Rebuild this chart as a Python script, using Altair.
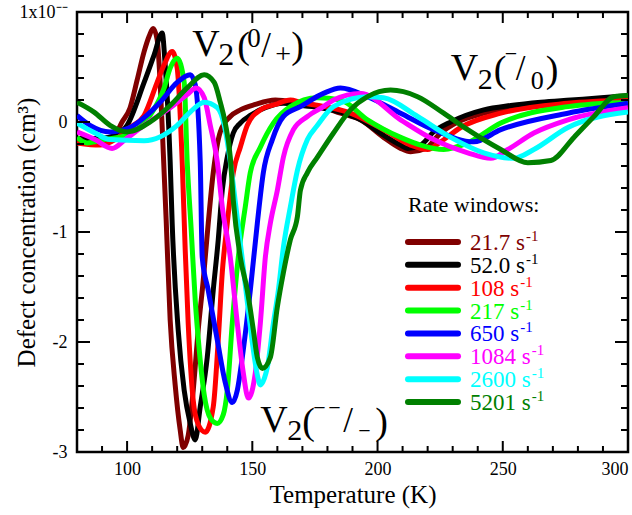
import altair as alt
import pandas as pd

FONT = "Liberation Serif"

# ---------------- data (temperature K, defect concentration) ----------------
rates = ["21.7", "52.0", "108", "217", "650", "1084", "2600", "5201"]
colors = ["#800000", "#000000", "#ff0000", "#00ff00", "#0000ff", "#ff00ff", "#00ffff", "#008000"]

S_21_7 = [(80, -0.16), (85.2, -0.18), (91.2, -0.19), (95.2, -0.12), (98, 0), (101.2, 0.13), (104, 0.38),
          (106.8, 0.64), (108.8, 0.78), (110.4, 0.85), (112, 0.75), (113.2, 0.36), (114.4, -0.25),
          (115.6, -0.89), (117.2, -1.8), (119.2, -2.39), (121.2, -2.8), (122.4, -2.96), (124.4, -2.85),
          (126.4, -2.44), (128.4, -1.89), (130.4, -1.44), (132.4, -0.92), (134.4, -0.46), (137.2, -0.09),
          (141.2, 0.05), (145.2, 0.11), (151.2, 0.16), (159.2, 0.2), (169.2, 0.17), (177.2, 0.14),
          (185.2, 0.08), (193.2, 0.02), (202.4, -0.14), (209.2, -0.24), (213.2, -0.27), (219.2, -0.24),
          (225.2, -0.1), (232, 0), (242.4, 0.08), (253.2, 0.13), (265.2, 0.16), (277.2, 0.19),
          (289.2, 0.21), (300, 0.23)]
S_52_0 = [(80, -0.15), (89.2, -0.15), (95.2, -0.12), (100, -0.03), (106.8, 0.36), (110.8, 0.61), (114, 0.81),
          (115.2, 0.52), (117.2, -0.36), (118, -0.92), (120.4, -1.89), (122.8, -2.44), (125.2, -2.74),
          (127.2, -2.89), (129.2, -2.59), (132, -2.14), (134.4, -1.53), (136.4, -1.07), (138, -0.62),
          (140, -0.32), (142.4, -0.1), (145.2, -0.01), (149.2, 0.06), (155.2, 0.13), (162.4, 0.17),
          (169.2, 0.15), (177.2, 0.13), (185.2, 0.09), (193.2, 0.02), (202.4, -0.12), (209.2, -0.21),
          (212, -0.24), (217.2, -0.21), (222.4, -0.09), (229.2, 0), (242.4, 0.11), (253.2, 0.15),
          (265.2, 0.18), (277.2, 0.2), (289.2, 0.22), (300, 0.24)]
S_108 = [(80, -0.19), (89.2, -0.21), (95.2, -0.16), (101.2, -0.05), (106.8, 0.06), (112, 0.36), (114.8, 0.52),
         (118, 0.64), (120, 0.49), (122, -0.36), (123.2, -1.16), (124.4, -1.83), (126.4, -2.53), (128.4, -2.75),
         (131.2, -2.82), (134.4, -2.59), (136.4, -1.98), (138, -1.37), (140, -0.92), (142.4, -0.46),
         (145.2, -0.23), (148, -0.03), (153.2, 0.11), (159.2, 0.16), (165.2, 0.2), (169.2, 0.18), (189.2, 0.08),
         (202.4, -0.07), (213.2, -0.21), (220, -0.25), (225.2, -0.18), (233.2, -0.05), (249.2, 0.08),
         (276, 0.17), (300, 0.2)]
S_217 = [(80, -0.14), (84, -0.19), (90.8, -0.16), (100, -0.12), (109.2, 0.06), (114.8, 0.31), (117.2, 0.49),
         (120, 0.58), (122.8, 0.36), (124, -0.36), (125.6, -0.98), (127.2, -1.62), (128.8, -2.07),
         (130.8, -2.48), (133.2, -2.69), (136, -2.74), (138.4, -2.66), (140, -2.44), (142, -1.83),
         (144.4, -1.23), (147.2, -0.77), (149.2, -0.46), (153.2, -0.23), (158.4, -0.01), (165.2, 0.14),
         (176, 0.22), (185.2, 0.2), (196, 0.02), (209.2, -0.14), (217.2, -0.21), (226.4, -0.25), (236, -0.19),
         (249.2, -0.01), (276, 0.14), (300, 0.18)]
S_650 = [(80, 0.06), (85.2, -0.03), (93.2, -0.09), (101.2, -0.05), (106.8, 0.04), (113.2, 0.18), (120, 0.36),
         (125.2, 0.43), (127.2, 0.34), (129.2, -0.36), (130, -1.23), (132.4, -1.53), (136, -1.98),
         (139.2, -2.37), (142, -2.55), (144, -2.44), (146, -2.14), (149.2, -1.53), (152, -0.92), (154.4, -0.46),
         (158, -0.16), (162.4, 0.05), (169.2, 0.14), (178.4, 0.26), (185.2, 0.31), (196, 0.23), (209.2, 0.08),
         (222.4, -0.07), (238.4, -0.18), (249.2, -0.07), (276, 0.08), (300, 0.17)]
S_1084 = [(80, -0.09), (87.2, -0.16), (94, -0.24), (99.2, -0.16), (106.8, -0.03), (117.2, 0.13), (124, 0.25),
          (127.6, 0.31), (130.8, 0.22), (133.2, -0.03), (136, -0.36), (138, -0.77), (141.2, -1.23), (144, -1.83),
          (146.4, -2.28), (148.4, -2.51), (151.2, -2.28), (153.2, -1.83), (155.2, -1.23), (157.2, -0.92),
          (160, -0.62), (162.4, -0.32), (166.4, -0.07), (172, 0.05), (178.4, 0.14), (182.4, 0.2), (193.2, 0.26),
          (209.2, 0.02), (222.4, -0.16), (236, -0.28), (245.2, -0.33), (252, -0.25), (262.4, -0.1), (276, 0.02),
          (300, 0.13)]
S_2600 = [(80, -0.01), (87.2, -0.1), (93.2, -0.16), (106.8, -0.17), (120, -0.03), (125.2, 0.09), (130.8, 0.18),
          (136, 0.13), (138.8, -0.03), (141.2, -0.36), (143.6, -0.8), (146, -1.25), (148.4, -1.71),
          (150.4, -2.07), (152, -2.3), (153.2, -2.39), (154.8, -2.33), (156, -2.23), (158.4, -1.83),
          (160.4, -1.53), (162.4, -1.14), (165.2, -0.77), (168, -0.44), (172, -0.16), (176, -0.03),
          (182.4, 0.14), (196, 0.23), (202.4, 0.22), (216, 0.05), (229.2, -0.14), (242.4, -0.28),
          (254.4, -0.33), (262.4, -0.25), (276, -0.05), (300, 0.09)]
S_5201 = [(80, 0.18), (86.8, 0.09), (93.2, -0.03), (100, -0.09), (109.2, 0), (117.2, 0.15), (124, 0.31),
          (130.8, 0.43), (134.8, 0.36), (137.2, 0.18), (139.2, -0.01), (141.2, -0.32), (142.4, -0.71),
          (145.2, -1.23), (148, -1.53), (150.4, -1.89), (152, -2.14), (154, -2.24), (157.2, -2.14), (160, -1.68),
          (162.4, -1.37), (165.2, -1.07), (168, -0.86), (169.2, -0.62), (172, -0.46), (176, -0.32),
          (182.4, -0.1), (189.2, 0.11), (196, 0.23), (205.2, 0.29), (216, 0.23), (226.4, 0.08), (236, -0.07),
          (249.2, -0.25), (260, -0.37), (269.2, -0.35), (278.4, -0.14), (286.4, 0.05), (294.4, 0.23),
          (300, 0.24)]
series = [S_21_7, S_52_0, S_108, S_217, S_650, S_1084, S_2600, S_5201]

x_ticks = [100, 150, 200, 250, 300]
y_ticks = [-3, -2, -1, 0, 1]
x_major_in = [100, 150, 200, 250]
x_minor_in = [90, 110, 120, 130, 140, 160, 170, 180, 190, 210, 220, 230, 240, 260, 270, 280, 290]
y_major_in = [-2, -1, 0]
y_minor_in = [-2.8, -2.6, -2.4, -2.2, -1.8, -1.6, -1.4, -1.2, -0.8, -0.6, -0.4, -0.2, 0.2, 0.4, 0.6, 0.8]

# annotation anchors (data coordinates of the left/baseline of each "V")
ann1 = pd.DataFrame({"T": [126.0], "v": [0.6]})
ann2 = pd.DataFrame({"T": [229.2], "v": [0.382]})
ann3 = pd.DataFrame({"T": [153.2], "v": [-2.818]})

# ---------------- scales & axes ----------------
W, H = 551, 440
xs = alt.Scale(domain=[80, 300], nice=False, zero=False)
ys = alt.Scale(domain=[-3, 1], nice=False, zero=False)
xaxis = alt.Axis(values=x_ticks, title="Temperature (K)", labelFlush=True, ticks=False, domain=False,
                 grid=False, labelPadding=8, titlePadding=4, labelFontSize=18, titleFontSize=25,
                 labelFont=FONT, titleFont=FONT, labelColor="black", titleColor="black",
                 titleFontWeight="normal")
yaxis = alt.Axis(values=y_ticks, title="Defect concentration (cm³)", ticks=False, domain=False, grid=False,
                 labelExpr="datum.value == 1 ? '1x10⁻⁻' : '' + datum.value",
                 labelPadding=10, labelFontSize=18, titleFontSize=25, labelFont=FONT, titleFont=FONT,
                 labelColor="black", titleColor="black", titleFontWeight="normal", titleX=-38)
X = alt.X("T:Q", scale=xs, axis=xaxis)
Y = alt.Y("v:Q", scale=ys, axis=yaxis)

layers = []

# curves
for s, c in zip(series, colors):
    df = pd.DataFrame(s, columns=["T", "v"])
    layers.append(alt.Chart(df).mark_line(color=c, strokeWidth=5, interpolate="monotone",
                                          strokeJoin="round", clip=True).encode(x=X, y=Y))

# inward ticks
def xtick_layer(vals, length):
    d = pd.DataFrame({"T": vals})
    bot = alt.Chart(d).mark_rule(color="black", strokeWidth=2).encode(
        x=X, y=alt.value(H), y2=alt.value(H - length))
    top = alt.Chart(d).mark_rule(color="black", strokeWidth=2).encode(
        x=X, y=alt.value(0), y2=alt.value(length))
    return [bot, top]

def ytick_layer(vals, length):
    d = pd.DataFrame({"v": vals})
    left = alt.Chart(d).mark_rule(color="black", strokeWidth=2).encode(
        y=Y, x=alt.value(0), x2=alt.value(length))
    right = alt.Chart(d).mark_rule(color="black", strokeWidth=2).encode(
        y=Y, x=alt.value(W), x2=alt.value(W - length))
    return [left, right]

layers += xtick_layer(x_major_in, 11) + xtick_layer(x_minor_in, 6)
layers += ytick_layer(y_major_in, 13) + ytick_layer(y_minor_in, 7)

# annotations built from pieces
def piece(anchor, txt, dx, dy, size):
    return alt.Chart(anchor).mark_text(text=txt, dx=dx, dy=dy, fontSize=size, font=FONT, align="left",
                                       baseline="alphabetic", color="black").encode(x=X, y=Y)

layers += [piece(ann1, "V", 0, 0, 38), piece(ann1, "2", 26, 9, 32), piece(ann1, "(", 45, 2, 38),
           piece(ann1, "0", 55, -9, 27), piece(ann1, "/", 69, 1, 35), piece(ann1, "+", 83, 7, 28),
           piece(ann1, ")", 99, 2, 38)]
layers += [piece(ann2, "V", 0, 0, 38), piece(ann2, "2", 27, 9, 30), piece(ann2, "(", 43, 2, 38),
           piece(ann2, "−", 54, -19, 22), piece(ann2, "/", 65, 0, 35), piece(ann2, "0", 80, 9, 26),
           piece(ann2, ")", 95, 2, 38)]
layers += [piece(ann3, "V", 0, 0, 38), piece(ann3, "2", 27, 8, 30), piece(ann3, "(", 42, 2, 38),
           piece(ann3, "−", 53, -17, 22), piece(ann3, "−", 68, -17, 22), piece(ann3, "/", 83, 0, 35),
           piece(ann3, "−", 98, 6, 22), piece(ann3, ")", 115, 2, 38)]

# legend (drawn by hand so that labels take the series colours)
LEG_FS = 23
def label_width(txt, fs):
    w = {".": 0.25, " ": 0.25, "s": 0.389}
    return sum(w.get(ch, 0.5) for ch in txt) * fs

layers.append(alt.Chart(pd.DataFrame({"t": ["Rate windows:"]})).mark_text(
    font=FONT, fontSize=22, align="left", baseline="alphabetic", color="black").encode(
    text="t:N", x=alt.value(331), y=alt.value(200)))
for i, (r, c) in enumerate(zip(rates, colors)):
    yy = 230 + i * 22.86
    lab = f"{r} s"
    d = pd.DataFrame({"label": [lab], "sup": ["-1"]})
    layers.append(alt.Chart(d).mark_rule(color=c, strokeWidth=6, strokeCap="round").encode(
        x=alt.value(331), x2=alt.value(381), y=alt.value(yy)))
    layers.append(alt.Chart(d).mark_text(font=FONT, fontSize=LEG_FS, align="left", baseline="alphabetic",
                                         color=c).encode(text="label:N", x=alt.value(393),
                                                         y=alt.value(yy + 8)))
    layers.append(alt.Chart(d).mark_text(font=FONT, fontSize=15, align="left", baseline="alphabetic",
                                         color=c).encode(text="sup:N",
                                                         x=alt.value(393 + label_width(lab, LEG_FS) + 1),
                                                         y=alt.value(yy - 1)))

chart = alt.layer(*layers).properties(
    width=W, height=H,
    autosize=alt.AutoSizeParams(type="none"),
    padding={"left": 77, "top": 12, "right": 4, "bottom": 63},
    background="white",
).configure_view(stroke="black", strokeWidth=2.5)

chart.save("out.html", embed_options={"renderer": "svg", "actions": False})
